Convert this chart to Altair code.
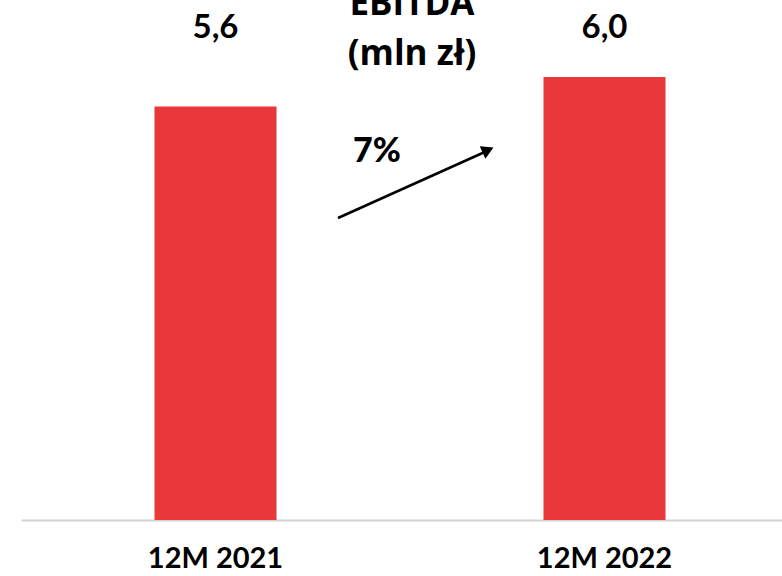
import altair as alt
import pandas as pd

# EBITDA for two twelve-month periods
periods = ["12M 2021", "12M 2022"]
ebitda = [5.6, 6.0]
ebitda_labels = ["5,6", "6,0"]
growth_label = "7%"
title_lines = ["EBITDA", "(mln zł)"]

df = pd.DataFrame({"period": periods, "ebitda": ebitda, "label": ebitda_labels})

FONT = "Lato"
TITLE_FONT = "Open Sans"
RED = "#e8383a"

x_enc = alt.X(
    "period:N",
    sort=periods,
    title=None,
    scale=alt.Scale(range=[0, 778]),
    axis=alt.Axis(
        labelAngle=0,
        labelFont=FONT,
        labelFontWeight="bold",
        labelFontSize=29,
        labelColor="#000000",
        labelPadding=24,
        ticks=False,
        domainColor="#d4d4d4",
        domainWidth=2,
        grid=False,
    ),
)

bars = alt.Chart(df).mark_bar(color=RED, size=122).encode(
    x=x_enc,
    y=alt.Y("ebitda:Q", scale=alt.Scale(domain=[0, 6]), axis=None),
)

values = alt.Chart(df).mark_text(
    font=FONT, fontWeight="bold", fontSize=33, baseline="alphabetic", color="#000000"
).encode(
    x=alt.X("period:N", sort=periods),
    y=alt.value(-39),
    text="label:N",
)

title_df = pd.DataFrame({"t": [title_lines[0]]})
title_top = alt.Chart(title_df).mark_text(
    font=TITLE_FONT, fontWeight="bold", fontSize=35, baseline="alphabetic", align="center", color="#000000"
).encode(x=alt.value(391), y=alt.value(-62), text="t:N")

title_df2 = pd.DataFrame({"t": [title_lines[1]]})
title_bottom = alt.Chart(title_df2).mark_text(
    font=TITLE_FONT, fontWeight="bold", fontSize=35, baseline="alphabetic", align="center", color="#000000"
).encode(x=alt.value(391), y=alt.value(-12), text="t:N")

growth_df = pd.DataFrame({"t": [growth_label]})
growth = alt.Chart(growth_df).mark_text(
    font=FONT, fontWeight=900, fontSize=34, baseline="alphabetic", align="left", color="#000000"
).encode(x=alt.value(332), y=alt.value(85), text="t:N")

arrow_line = alt.Chart(growth_df).mark_rule(color="#000000", strokeWidth=2.5).encode(
    x=alt.value(317), y=alt.value(141), x2=alt.value(466), y2=alt.value(74)
)

arrow_head = alt.Chart(growth_df).mark_point(
    shape="triangle-right", filled=True, color="#000000", size=190, angle=335.7, opacity=1
).encode(x=alt.value(467), y=alt.value(73))

chart = (
    alt.layer(bars, values, title_top, title_bottom, growth, arrow_line, arrow_head)
    .properties(
        width=761,
        height=443,
        padding={"left": 21, "top": 77, "right": 0, "bottom": 56},
        autosize=alt.AutoSizeParams(type="none"),
        background="#ffffff",
    )
    .configure_view(stroke=None)
)

chart.save("out.html", embed_options={"renderer": "svg", "actions": False})
